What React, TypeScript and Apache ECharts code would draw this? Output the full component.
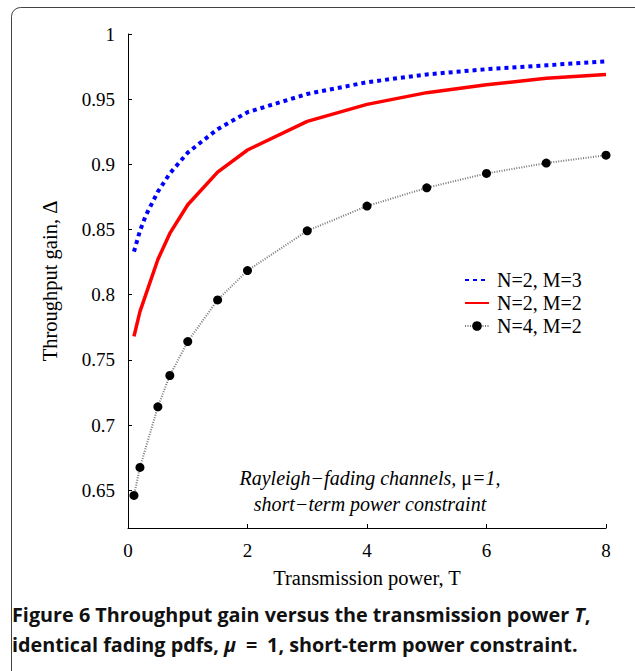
import React, { useEffect, useRef } from "react";
import * as echarts from "echarts";

const powerT = [0.1, 0.2, 0.5, 0.7, 1, 1.5, 2, 3, 4, 5, 6, 7, 8];
const powerTBlue = [0.1, 0.2, 0.3, 0.5, 0.7, 1, 1.5, 2, 3, 4, 5, 6, 7, 8];
const gainN2M3 = [0.833, 0.849, 0.861, 0.879, 0.893, 0.909, 0.927, 0.94, 0.954, 0.963, 0.969, 0.973, 0.976, 0.979];
const gainN2M2 = [0.768, 0.787, 0.827, 0.847, 0.869, 0.894, 0.911, 0.933, 0.946, 0.955, 0.961, 0.966, 0.969];
const gainN4M2 = [0.646, 0.6675, 0.714, 0.738, 0.764, 0.796, 0.8185, 0.849, 0.868, 0.882, 0.893, 0.901, 0.907];
const seriesNames = ["N=2, M=3", "N=2, M=2", "N=4, M=2"];

const SERIF = "'Liberation Serif', 'Times New Roman', serif";
const SANS = "'Open Sans', 'Noto Sans', sans-serif";

export default function App() {
  const ref = useRef<HTMLDivElement>(null);
  useEffect(() => {
    if (!ref.current) return;
    const chart = echarts.init(ref.current, undefined, { renderer: "svg" });
    const zip = (xs: number[], ys: number[]) => xs.map((x, i) => [x, ys[i]]);
    chart.setOption({
      animation: false,
      backgroundColor: "#ffffff",
      textStyle: { fontFamily: SERIF },
      grid: { left: 128, right: 29, top: 34, bottom: 143, containLabel: false },
      xAxis: {
        type: "value",
        min: 0,
        max: 8,
        interval: 2,
        name: "Transmission power, T",
        nameLocation: "middle",
        nameGap: 39,
        nameTextStyle: { fontFamily: SERIF, fontSize: 20.5, color: "#000" },
        axisLine: { show: true, lineStyle: { color: "#000", width: 1 } },
        axisTick: { show: true, inside: true, length: 4, lineStyle: { color: "#000" } },
        axisLabel: { fontFamily: SERIF, fontSize: 19, color: "#000", margin: 13 },
        splitLine: { show: false },
      },
      yAxis: {
        type: "value",
        min: 0.621,
        max: 1,
        splitNumber: 8,
        minInterval: 0.05,
        maxInterval: 0.05,
        name: "Throughput gain, \u0394",
        nameLocation: "middle",
        nameGap: 68,
        nameRotate: 90,
        nameTextStyle: { fontFamily: SERIF, fontSize: 20.5, color: "#000" },
        axisLine: { show: true, lineStyle: { color: "#000", width: 1 } },
        axisTick: { show: true, inside: true, length: 4, lineStyle: { color: "#000" } },
        axisLabel: {
          fontFamily: SERIF,
          fontSize: 19,
          color: "#000",
          margin: 13,
          showMinLabel: false,
          formatter: (v: number) => String(Math.round(v * 100) / 100),
        },
        splitLine: { show: false },
      },
      legend: {
        orient: "vertical",
        left: 459,
        top: 265,
        itemWidth: 24,
        itemHeight: 12,
        itemGap: 3,
        textStyle: { fontFamily: SERIF, fontSize: 20, color: "#000", padding: [0, 0, 0, 3] },
        data: [
          { name: seriesNames[0], itemStyle: { opacity: 0 } },
          { name: seriesNames[1], itemStyle: { opacity: 0 } },
          { name: seriesNames[2] },
        ],
      },
      series: [
        {
          name: seriesNames[0],
          type: "line",
          data: zip(powerTBlue, gainN2M3),
          showSymbol: false,
          symbol: "none",
          lineStyle: { color: "#0000ff", width: 4, type: [4, 4], cap: "butt" },
          itemStyle: { color: "#0000ff" },
          z: 3,
        },
        {
          name: seriesNames[1],
          type: "line",
          data: zip(powerT, gainN2M2),
          showSymbol: false,
          symbol: "none",
          lineStyle: { color: "#ff0000", width: 3.5, type: "solid" },
          itemStyle: { color: "#ff0000" },
          z: 3,
        },
        {
          name: seriesNames[2],
          type: "line",
          data: zip(powerT, gainN4M2),
          symbol: "circle",
          symbolSize: 9,
          showSymbol: true,
          lineStyle: { color: "#777777", width: 2, type: [1, 1.5] },
          itemStyle: { color: "#000000", borderWidth: 0 },
          z: 3,
        },
      ],
      graphic: [
        {
          type: "rect",
          z: -10,
          silent: true,
          shape: { x: 11.5, y: 7.5, width: 640, height: 720, r: 9 },
          style: { fill: "none", stroke: "#444", lineWidth: 1 },
        },
        {
          type: "text",
          x: 370,
          y: 465,
          silent: true,
          style: {
            text: "{i|Rayleigh\u2212fading channels, }{n|\u03bc}{i|=1,}\n{i|short\u2212term power constraint}",
            align: "center",
            rich: {
              i: { fontFamily: SERIF, fontStyle: "italic", fontSize: 20, fill: "#000", lineHeight: 26 },
              n: { fontFamily: SERIF, fontSize: 20, fill: "#000", lineHeight: 26 },
            },
          },
        },
        {
          type: "text",
          x: 12,
          y: 599,
          silent: true,
          style: {
            text: "{b|Figure 6 Throughput gain versus the transmission power }{bi|T}{b|,}\n{b|identical fading pdfs, }{bi|\u03bc}{b|\u2002=\u20021, short-term power constraint.}",
            rich: {
              b: { fontFamily: SANS, fontWeight: "bold", fontSize: 19.8, fill: "#111", lineHeight: 30 },
              bi: { fontFamily: SANS, fontWeight: "bold", fontStyle: "italic", fontSize: 19.8, fill: "#111", lineHeight: 30 },
            },
          },
        },
      ],
    });
    return () => chart.dispose();
  }, []);
  return (
    <div
      ref={ref}
      style={{ position: "fixed", left: 0, top: 0, width: 635, height: 671, background: "#fff" }}
    />
  );
}
